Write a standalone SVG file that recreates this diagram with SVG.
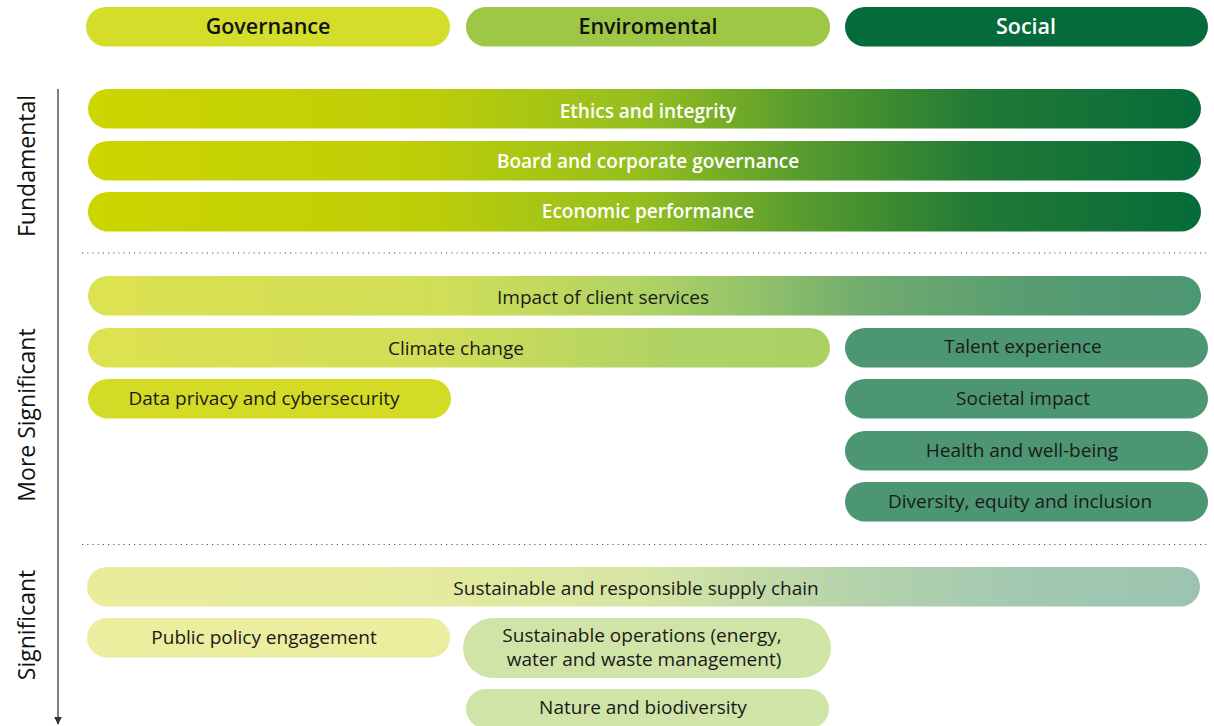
<svg xmlns="http://www.w3.org/2000/svg" width="1214" height="726" viewBox="0 0 1214 726">
<defs>
<linearGradient id="gFund" gradientUnits="userSpaceOnUse" x1="88" y1="0" x2="1201" y2="0">
<stop offset="0" stop-color="#CED500"/>
<stop offset="0.3" stop-color="#BDCE08"/>
<stop offset="0.5" stop-color="#94BE20"/>
<stop offset="0.65" stop-color="#559A2E"/>
<stop offset="0.8" stop-color="#217A35"/>
<stop offset="1" stop-color="#066B3A"/>
</linearGradient>
<linearGradient id="gImpact" gradientUnits="userSpaceOnUse" x1="88" y1="0" x2="1201" y2="0">
<stop offset="0" stop-color="#DDE24F"/>
<stop offset="0.32" stop-color="#D0DE58"/>
<stop offset="0.5" stop-color="#B0D365"/>
<stop offset="0.6" stop-color="#92C26A"/>
<stop offset="0.7" stop-color="#71AC6F"/>
<stop offset="0.85" stop-color="#579C72"/>
<stop offset="1" stop-color="#4D9673"/>
</linearGradient>
<linearGradient id="gClimate" gradientUnits="userSpaceOnUse" x1="88" y1="0" x2="830" y2="0">
<stop offset="0" stop-color="#DDE24F"/>
<stop offset="0.45" stop-color="#D2DE57"/>
<stop offset="0.8" stop-color="#AED265"/>
<stop offset="1" stop-color="#ABD165"/>
</linearGradient>
<linearGradient id="gSupply" gradientUnits="userSpaceOnUse" x1="87" y1="0" x2="1200" y2="0">
<stop offset="0" stop-color="#EAEC9C"/>
<stop offset="0.3" stop-color="#E5EB9E"/>
<stop offset="0.5" stop-color="#D6E5A5"/>
<stop offset="0.7" stop-color="#B3D2AC"/>
<stop offset="0.85" stop-color="#A2C8B1"/>
<stop offset="1" stop-color="#9BC4B0"/>
</linearGradient>
<marker id="arr" viewBox="0 0 10 10" refX="9" refY="5" markerWidth="8" markerHeight="8" orient="auto" markerUnits="userSpaceOnUse">
<path d="M0,0 L10,5 L0,10 z" fill="#333"/>
</marker>
</defs>
<style>
text{font-family:"Open Sans","Noto Sans","Liberation Sans",sans-serif;text-anchor:middle}
.hd{font-size:21.5px;font-weight:600}
.fd{font-size:19px;font-weight:600;fill:#fff}
.lb{font-size:19px;fill:#1a1a1a}
.ax{font-size:23px;fill:#111}
.dot{stroke:#555;stroke-width:1.2;stroke-dasharray:1.2 4}
</style>
<rect width="1214" height="726" fill="#fff"/>

<g id="axis">
<line x1="58" y1="89" x2="58" y2="724" stroke="#555" stroke-width="1.5" marker-end="url(#arr)"/>
<text class="ax" transform="translate(35,166) rotate(-90)">Fundamental</text>
<text class="ax" transform="translate(35,415) rotate(-90)">More Significant</text>
<text class="ax" transform="translate(35,625) rotate(-90)">Significant</text>
</g>

<g id="dividers">
<line class="dot" x1="82" y1="253" x2="1208" y2="253"/>
<line class="dot" x1="82" y1="544.5" x2="1208" y2="544.5"/>
</g>

<g id="header-governance"><rect x="86" y="7" width="364" height="39.5" rx="19.75" fill="#D4DD2A"/><text class="hd" x="268" y="33.5" fill="#111">Governance</text></g>
<g id="header-environmental"><rect x="466" y="7" width="364" height="39.5" rx="19.75" fill="#9DC744"/><text class="hd" x="648" y="33.5" fill="#111">Enviromental</text></g>
<g id="header-social"><rect x="845" y="7" width="363" height="39.5" rx="19.75" fill="#066B3A"/><text class="hd" x="1026" y="33.5" fill="#fff" font-weight="500">Social</text></g>

<g id="ethics"><rect x="88" y="89" width="1113" height="39.5" rx="19.75" fill="url(#gFund)"/><text class="fd" x="648" y="117.5">Ethics and integrity</text></g>
<g id="board"><rect x="88" y="141" width="1113" height="39.5" rx="19.75" fill="url(#gFund)"/><text class="fd" x="648" y="167.5">Board and corporate governance</text></g>
<g id="economic"><rect x="88" y="192" width="1113" height="39.5" rx="19.75" fill="url(#gFund)"/><text class="fd" x="648" y="218">Economic performance</text></g>

<g id="impact"><rect x="88" y="276" width="1113" height="39.5" rx="19.75" fill="url(#gImpact)"/><text class="lb" x="603" y="304">Impact of client services</text></g>
<g id="climate"><rect x="88" y="328" width="742" height="39.5" rx="19.75" fill="url(#gClimate)"/><text class="lb" x="456" y="355">Climate change</text></g>
<g id="data-privacy"><rect x="88" y="379" width="363" height="39.5" rx="19.75" fill="#D4DB26"/><text class="lb" x="264" y="404.5">Data privacy and cybersecurity</text></g>
<g id="talent"><rect x="845" y="328" width="363" height="39.5" rx="19.75" fill="#4D9673"/><text class="lb" x="1023" y="352.5">Talent experience</text></g>
<g id="societal"><rect x="845" y="379" width="363" height="39.5" rx="19.75" fill="#4D9673"/><text class="lb" x="1023" y="404.5">Societal impact</text></g>
<g id="health"><rect x="845" y="431" width="363" height="39.5" rx="19.75" fill="#4D9673"/><text class="lb" x="1022" y="456.5">Health and well-being</text></g>
<g id="diversity"><rect x="845" y="482" width="363" height="39.5" rx="19.75" fill="#4D9673"/><text class="lb" x="1020" y="507.5">Diversity, equity and inclusion</text></g>

<g id="supply"><rect x="87" y="567" width="1113" height="39.5" rx="19.75" fill="url(#gSupply)"/><text class="lb" x="636" y="594.5">Sustainable and responsible supply chain</text></g>
<g id="public-policy"><rect x="87" y="618" width="363" height="39.5" rx="19.75" fill="#EAEE9E"/><text class="lb" x="264" y="643.5">Public policy engagement</text></g>
<g id="operations"><rect x="463" y="618" width="368" height="60" rx="30" fill="#D0E4A8"/><text class="lb" x="643" y="641.5"><tspan x="642">Sustainable operations (energy,</tspan><tspan x="644" dy="24">water and waste management)</tspan></text></g>
<g id="nature"><rect x="466" y="689" width="363" height="39.5" rx="19.75" fill="#D0E4A8"/><text class="lb" x="643" y="713.5">Nature and biodiversity</text></g>
</svg>
